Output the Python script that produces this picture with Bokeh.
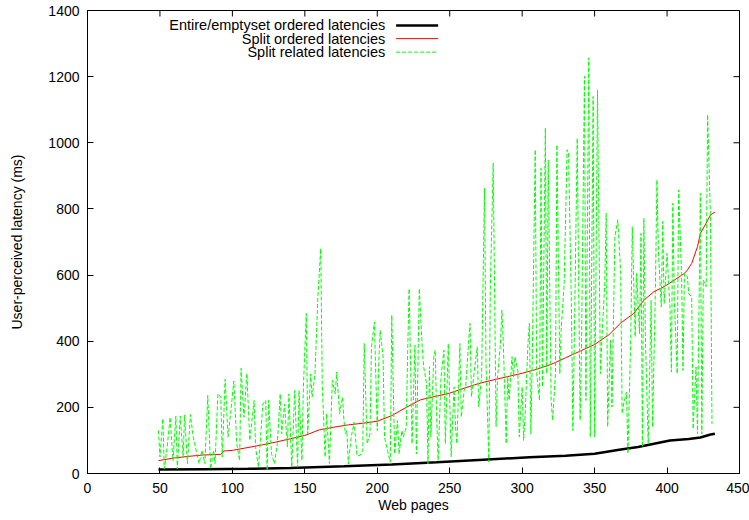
from bokeh.plotting import figure
from bokeh.models import Range1d, SingleIntervalTicker, Label
from bokeh.embed import file_html
from bokeh.resources import INLINE

# ---- data ----
entire_pages = [49, 80, 111, 140, 177, 210, 241, 270, 305, 330, 350, 367, 380, 391, 402, 415, 423, 430, 433]
entire_lat = [12, 13, 14, 17, 22, 27, 34, 41, 49, 54, 60, 72, 80, 90, 100, 104, 109, 118, 120]

split_ord_pages = [49, 60, 70, 80, 92, 94, 100, 110, 120, 130, 140, 150, 160, 170, 180, 190, 200, 210,
                   220, 230, 240, 250, 260, 270, 280, 290, 300, 310, 320, 330, 340, 350, 360, 368,
                   377, 384, 391, 398, 405, 412, 414, 417, 421, 423, 427, 430, 433]
split_ord_lat = [39, 47, 52, 56, 58, 68, 70, 78, 86, 95, 105, 115, 132, 140, 147, 152, 158, 175,
                 200, 223, 233, 243, 258, 272, 283, 293, 303, 315, 330, 350, 370, 390, 420, 455,
                 484, 524, 550, 565, 585, 605, 615, 635, 686, 726, 757, 782, 790]

split_rel_pages = [49, 50, 52, 53, 55, 57, 59, 61, 62, 64, 66, 67, 69, 71, 73, 75, 77, 79, 81, 83, 85, 87, 88,
                   90, 92, 93, 95, 97, 99, 101, 103, 105, 106, 108, 110, 112, 115, 116, 118, 119, 121, 123,
                   124, 125, 127, 129, 131, 133, 134, 136, 138, 139, 141, 143, 145, 146, 148, 149, 151, 152,
                   154, 155, 157, 159, 161, 162, 164, 165, 167, 169, 171, 172, 174, 176, 177, 178, 179, 180,
                   182, 184, 186, 188, 190, 191, 193, 195, 196, 198, 200, 201, 202, 204, 205, 207, 209, 210,
                   212, 214, 215, 217, 218, 220, 221, 222, 224, 226, 227, 229, 231, 232, 234, 235, 236, 237,
                   239, 240, 241, 242, 244, 246, 247, 249, 251, 253, 254, 255, 257, 258, 260, 261, 263, 264,
                   265, 267, 269, 270, 272, 274, 275, 277, 278, 280, 282, 283, 285, 286, 287, 289, 290, 291,
                   293, 294, 295, 297, 298, 300, 301, 302, 304, 305, 306, 307, 309, 310, 312, 313, 314, 316,
                   317, 318, 320, 321, 323, 324, 326, 327, 329, 331, 332, 334, 335, 336, 338, 340, 341, 343,
                   344, 346, 347, 349, 350, 352, 354, 355, 357, 358, 359, 361, 362, 364, 366, 368, 369, 370,
                   372, 373, 375, 376, 378, 379, 381, 382, 383, 384, 385, 387, 389, 390, 392, 393, 394, 396,
                   397, 398, 400, 402, 403, 404, 405, 407, 408, 410, 411, 412, 414, 415, 417, 418, 420, 421,
                   423, 424, 425, 427, 428, 430, 431]
split_rel_lat = [130, 50, 166, 14, 80, 170, 39, 174, 14, 174, 50, 177, 30, 178, 110, 70, 30, 70, 30, 236, 14, 70, 30,
                 241, 231, 50, 285, 110, 191, 280, 90, 39, 318, 170, 302, 100, 221, 80, 19, 80, 210, 221,
                 9, 221, 60, 30, 90, 241, 120, 210, 80, 241, 19, 251, 19, 251, 40, 261, 484, 120,
                 301, 231, 301, 534, 681, 271, 50, 181, 30, 282, 241, 307, 181, 231, 161, 120, 130, 29,
                 110, 155, 54, 54, 70, 393, 90, 120, 383, 458, 130, 332, 433, 353, 110, 70, 34, 479,
                 59, 160, 59, 130, 110, 140, 373, 559, 90, 388, 59, 559, 383, 323, 272, 29, 323, 110,
                 353, 373, 170, 40, 292, 373, 90, 393, 50, 262, 141, 90, 393, 171, 252, 262, 393, 454,
                 232, 312, 383, 201, 292, 863, 342, 35, 555, 939, 141, 292, 393, 494, 393, 90, 292, 221,
                 353, 292, 353, 312, 111, 262, 100, 171, 393, 454, 120, 353, 979, 302, 221, 923, 262, 1045,
                 302, 948, 221, 161, 302, 994, 302, 443, 575, 979, 969, 504, 130, 403, 1014, 161, 403, 1201,
                 221, 1257, 110, 1140, 110, 1160, 302, 403, 575, 787, 141, 403, 201, 716, 767, 605, 181, 211,
                 246, 60, 423, 746, 413, 605, 423, 726, 80, 772, 423, 90, 524, 140, 565, 888, 676, 504,
                 762, 514, 666, 504, 307, 817, 524, 302, 857, 605, 312, 605, 595, 544, 534, 135, 322, 120,
                 847, 120, 585, 565, 1085, 767, 150]

x_ticks = [0, 50, 100, 150, 200, 250, 300, 350, 400, 450]
y_ticks = [0, 200, 400, 600, 800, 1000, 1200, 1400]

series_labels = ["Entire/emptyset ordered latencies", "Split ordered latencies", "Split related latencies"]
x_title = "Web pages"
y_title = "User-perceived latency (ms)"

FONT = "Liberation Sans"
X_MAX, Y_MAX = 450, 1400

p = figure(width=749, height=520, output_backend="svg", toolbar_location=None,
           x_range=Range1d(0, X_MAX), y_range=Range1d(0, Y_MAX),
           min_border_left=87, min_border_right=10, min_border_top=10, min_border_bottom=47,
           x_axis_label=x_title, y_axis_label=y_title)
p.background_fill_color = "white"
p.border_fill_color = "white"
p.outline_line_color = "black"
p.outline_line_width = 1
p.outline_line_alpha = 1
p.xgrid.visible = False
p.ygrid.visible = False

p.xaxis.ticker = SingleIntervalTicker(interval=50)
p.yaxis.ticker = SingleIntervalTicker(interval=200)

for ax in (p.xaxis[0], p.yaxis[0]):
    ax.major_tick_in = 6
    ax.major_tick_out = 0
    ax.minor_tick_in = 0
    ax.minor_tick_out = 0
    ax.axis_line_color = "black"
    ax.major_tick_line_color = "black"
    ax.major_label_text_font = FONT
    ax.major_label_text_font_size = "14px"
    ax.major_label_text_color = "black"
    ax.axis_label_text_font = FONT
    ax.axis_label_text_font_size = "14px"
    ax.axis_label_text_font_style = "normal"
    ax.axis_label_text_color = "black"

p.xaxis.major_label_standoff = 9
p.xaxis.axis_label_standoff = 1
p.yaxis.major_label_standoff = 8
p.yaxis.axis_label_standoff = 20

# mirrored inward ticks on top and right edges (6 px long)
px_per_x = 652 / X_MAX
px_per_y = 463 / Y_MAX
p.segment(x0=x_ticks, y0=[Y_MAX] * len(x_ticks), x1=x_ticks, y1=[Y_MAX - 6 / px_per_y] * len(x_ticks),
          line_color="black", line_width=1)
p.segment(x0=[X_MAX] * len(y_ticks), y0=y_ticks, x1=[X_MAX - 6 / px_per_x] * len(y_ticks), y1=y_ticks,
          line_color="black", line_width=1)

# series
p.line(entire_pages, entire_lat, line_color="black", line_width=2.5)
p.line(split_ord_pages, split_ord_lat, line_color="#ff0000", line_width=1)
p.line(split_rel_pages, split_rel_lat, line_color="#00ff00", line_width=1, line_dash="4 2")

# gnuplot-style key: text right-aligned, sample to the right
key_rows_y = [1355, 1315, 1274]
key_styles = [("black", 2.5, "solid"), ("#ff0000", 1, "solid"), ("#00ff00", 1, "4 2")]
for lab, yy, (c, w, d) in zip(series_labels, key_rows_y, key_styles):
    p.add_layout(Label(x=205.5, y=yy, text=lab, text_align="right", text_baseline="middle",
                       text_font=FONT, text_font_size="14.5px", text_color="black"))
    p.line([213, 242], [yy, yy], line_color=c, line_width=w, line_dash=d)

open("out.html", "w").write(file_html(p, INLINE))
